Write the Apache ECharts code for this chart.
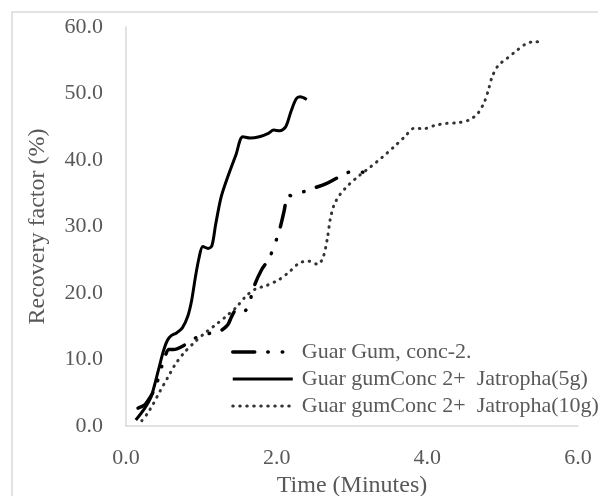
<!DOCTYPE html>
<html>
<head>
<meta charset="utf-8">
<script src="https://cdn.jsdelivr.net/npm/echarts@6/dist/echarts.min.js"></script>
<style>
html,body{margin:0;padding:0;background:#fff;}
#chart{width:598px;height:496px;}
</style>
</head>
<body>
<div id="chart"></div>
<script>
// ---- data ----
var seriesNames = ['Guar Gum, conc-2.', 'Guar gumConc 2+  Jatropha(5g)', 'Guar gumConc 2+  Jatropha(10g)'];

var conc2Time = [0.16,0.25,0.32,0.39,0.45,0.51,0.57,0.63,0.75,0.87,0.97,1.10,1.25,1.35,1.40,1.46,1.52,1.59,1.63,1.70,1.80,1.90,1.99,2.05,2.10,2.15,2.22,2.35,2.50,2.65,2.82,2.98,3.10,3.20];
var conc2Rec  = [2.7,3.2,4.3,5.8,8.0,10.2,11.5,11.5,12.0,12.9,13.5,13.9,14.3,15.2,16.4,17.4,17.1,17.4,18.2,21.0,23.5,25.2,27.8,30.0,32.4,34.7,34.6,35.2,35.8,36.4,37.4,38.2,38.2,38.1];

var jat5Time = [0.13,0.25,0.33,0.38,0.43,0.50,0.55,0.60,0.67,0.75,0.82,0.87,0.92,0.97,1.02,1.09,1.14,1.19,1.26,1.33,1.46,1.55,1.65,1.77,1.89,1.96,2.04,2.12,2.19,2.26,2.31,2.40];
var jat5Rec  = [0.9,2.7,4.3,6.2,8.4,11.4,12.9,13.6,14.0,14.8,16.5,18.8,22.3,25.3,27.0,26.7,27.1,30.3,34.3,36.8,40.8,43.5,43.3,43.5,44.0,44.5,44.4,45.0,47.3,49.2,49.5,49.1];

var jat10Time = [0.21,0.28,0.36,0.45,0.55,0.65,0.77,0.92,1.05,1.20,1.33,1.46,1.59,1.72,1.86,2.03,2.17,2.30,2.42,2.55,2.62,2.67,2.71,2.76,2.84,2.95,3.09,3.25,3.40,3.56,3.70,3.83,3.95,4.10,4.25,4.40,4.55,4.67,4.76,4.81,4.86,4.94,5.06,5.18,5.30,5.42,5.53];
var jat10Rec  = [0.8,1.8,3.3,5.2,7.2,9.2,11.0,12.7,14.0,15.3,16.5,17.8,19.5,20.6,21.1,22.0,23.2,24.5,24.8,24.3,25.5,28.0,31.0,33.2,34.8,36.2,37.6,39.0,40.4,42.0,43.5,44.8,44.7,45.2,45.5,45.6,46.0,47.0,48.8,50.5,52.5,54.2,55.3,56.4,57.4,57.8,57.8];

var xTicks = {min: 0, max: 6, interval: 2};
var yTicks = {min: 0, max: 60, interval: 10};

function zip(xs, ys) { return xs.map(function (x, i) { return [x, ys[i]]; }); }

var FONT = 'Liberation Serif';
var chart = echarts.init(document.getElementById('chart'), null, {renderer: 'canvas'});
chart.setOption({
  animation: false,
  backgroundColor: '#ffffff',
  graphic: [{
    type: 'rect', silent: true,
    shape: {x: 12, y: 12, width: 620, height: 520},
    style: {fill: 'none', stroke: '#d9d9d9', lineWidth: 1.5}
  }],
  grid: {left: 126, right: 20, top: 27, bottom: 70, containLabel: false, outerBoundsMode: 'none'},
  legend: {
    orient: 'vertical', left: 226, top: 336,
    itemWidth: 60, itemHeight: 14, itemGap: 5,
    data: seriesNames,
    itemStyle: {opacity: 0, borderWidth: 0},
    lineStyle: {width: 'inherit'},
    textStyle: {fontFamily: FONT, fontSize: 22, color: '#595959', lineHeight: 20, padding: [0, 0, 0, 4]}
  },
  xAxis: {
    type: 'value', min: xTicks.min, max: xTicks.max, interval: xTicks.interval,
    name: 'Time (Minutes)', nameLocation: 'middle', nameGap: 45,
    nameTextStyle: {fontFamily: FONT, fontSize: 24, color: '#595959'},
    axisLine: {show: true, lineStyle: {color: '#d9d9d9', width: 1.5}},
    axisTick: {show: false}, splitLine: {show: false},
    axisLabel: {fontFamily: FONT, fontSize: 22, color: '#595959', margin: 21,
      formatter: function (v) { return v.toFixed(1); }}
  },
  yAxis: {
    type: 'value', min: yTicks.min, max: yTicks.max, interval: yTicks.interval,
    name: 'Recovery factor (%)', nameLocation: 'middle', nameGap: 76,
    nameTextStyle: {fontFamily: FONT, fontSize: 24, color: '#595959'},
    axisLine: {show: true, lineStyle: {color: '#d9d9d9', width: 1.5}},
    axisTick: {show: false}, splitLine: {show: false},
    axisLabel: {fontFamily: FONT, fontSize: 22, color: '#595959', margin: 23,
      formatter: function (v) { return v.toFixed(1); }}
  },
  series: [
    {
      name: seriesNames[0], type: 'line', data: zip(conc2Time, conc2Rec),
      symbol: 'none', smooth: 0.3,
      lineStyle: {color: '#000000', width: 3.5, type: [22, 13, 0.5, 14, 0.5, 13], cap: 'round'},
      itemStyle: {color: '#000000'}
    },
    {
      name: seriesNames[1], type: 'line', data: zip(jat5Time, jat5Rec),
      symbol: 'none', smooth: 0.3,
      lineStyle: {color: '#000000', width: 3, type: 'solid'},
      itemStyle: {color: '#000000'}
    },
    {
      name: seriesNames[2], type: 'line', data: zip(jat10Time, jat10Rec),
      symbol: 'none', smooth: 0.3,
      lineStyle: {color: '#333333', width: 3, type: [0.5, 6.5], cap: 'round'},
      itemStyle: {color: '#333333'}
    }
  ]
});
</script>
</body>
</html>
